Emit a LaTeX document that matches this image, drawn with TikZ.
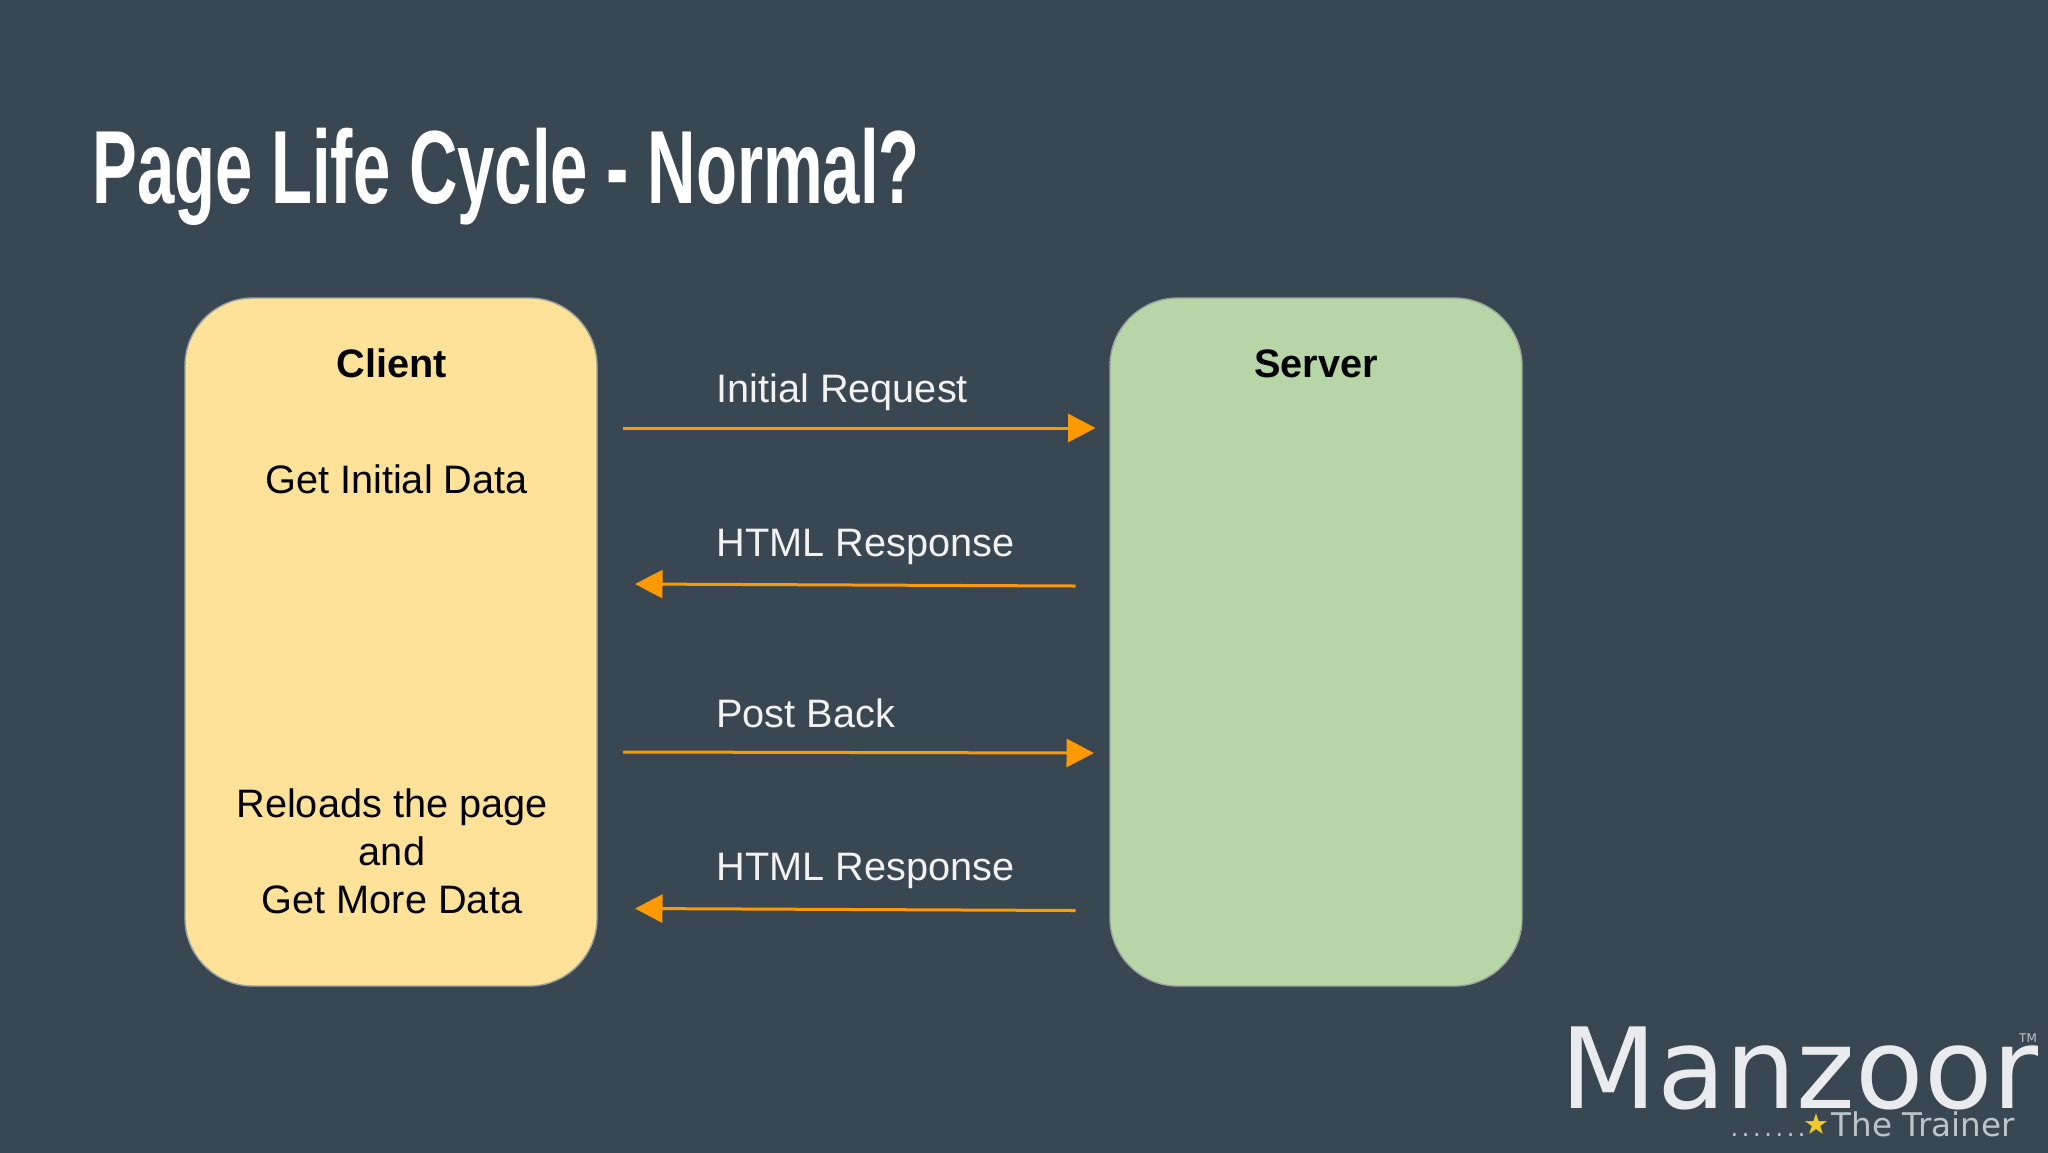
\documentclass[tikz,border=0pt]{standalone}
\usepackage{fontspec}
\setmainfont{Liberation Sans}
\newfontfamily\titlefont[FakeStretch=0.645]{Liberation Sans Bold}
\newfontfamily\logofont{DejaVu Sans}
\newfontfamily\dotfont[LetterSpace=15]{DejaVu Sans}
\usepackage{xcolor}
\usetikzlibrary{positioning,arrows.meta}
\definecolor{slidebg}{HTML}{394752}
\definecolor{clientfill}{HTML}{FFE29A}
\definecolor{serverfill}{HTML}{B7D6A8}
\definecolor{panelline}{HTML}{9EA5A0}
\definecolor{arroworange}{HTML}{FF9900}
\definecolor{logolight}{HTML}{E9EBEF}
\definecolor{logodim}{HTML}{BCC4C9}
\definecolor{stargold}{HTML}{EFC92E}
\tikzset{
    panel/.style={draw=panelline, line width=0.7pt, rounded corners=34pt, minimum width=206pt, minimum height=344pt, inner sep=0pt},
    flow/.style={-{Triangle[length=13.75pt,width=14pt]}, arroworange, line width=1.5pt},
    paneltext/.style={black, font=\fontsize{19.85}{24}\selectfont, align=center, inner sep=0pt},
    paneltitle/.style={paneltext, font=\bfseries\fontsize{19.85}{24}\selectfont, text height=14.5pt, text depth=0pt},
    flowtext/.style={white!95!black, font=\fontsize{19.85}{24}\selectfont, anchor=base west, inner sep=0pt},
}
\begin{document}
\begin{tikzpicture}[x=0.5pt,y=-0.5pt]
        \useasboundingbox (0,0) rectangle (2048,1152);
        \fill[slidebg] (-4,-4) rectangle (2052,1156);

        \node[white, anchor=base west, inner sep=0pt, font=\titlefont\fontsize{52}{60}\selectfont] (title) at (92,203) {Page Life Cycle - Normal?};

        \node[panel, fill=clientfill] (client) at (391,642) {};
        \node[panel, fill=serverfill, right=255.8pt of client] (server) {};

        \node[paneltitle, below=25.4pt of client.north, xshift=0.4pt] (clienttitle) {Client};
        \node[paneltitle, below=25.4pt of server.north] (servertitle) {Server};
        \node[paneltext] (getdata) at (396.5,479) {Get Initial Data};
        \node[paneltext] (reload) at (392,851) {Reloads the page\\and\\Get More Data};

        % arrow end points
        \coordinate (reqa) at (623,428);
        \coordinate (reqb) at (1095.5,428);
        \coordinate (respa) at (1075.5,586);
        \coordinate (respb) at (635,584);
        \coordinate (posta) at (623,752);
        \coordinate (postb) at (1094,753);
        \coordinate (moreresa) at (1075.5,910.5);
        \coordinate (moreresb) at (635,908.5);

        \draw[flow] (reqa) -- (reqb);
        \draw[flow] (respa) -- (respb);
        \draw[flow] (posta) -- (postb);
        \draw[flow] (moreresa) -- (moreresb);

        \node[flowtext] (reqtext) at (716,402) {Initial Request};
        \node[flowtext] (resptext) at (716,556) {HTML Response};
        \node[flowtext] (posttext) at (716,727) {Post Back};
        \node[flowtext] (moretext) at (716,880) {HTML Response};

        % logo
        \node[logolight, anchor=base west, inner sep=0pt, font=\logofont\fontsize{56}{60}\selectfont] (logo) at (1560,1108) {Manzoor};
        \node[logodim, anchor=base east, inner sep=0pt, font=\logofont\fontsize{16.3}{20}\selectfont] (trainer) at (2015,1136) {The Trainer};
        \node[stargold, left=1pt of trainer, inner sep=0pt, font=\logofont\fontsize{14.5}{16}\selectfont] (star) {★};
        \node[logodim, anchor=base east, inner sep=0pt, font=\dotfont\fontsize{12}{16}\selectfont] (dots) at (1806,1136) {.......};
        \node[logodim, inner sep=0pt, font=\logofont\fontsize{6}{7}\selectfont] (tm) at (2028,1038) {TM};
\end{tikzpicture}
\end{document}
